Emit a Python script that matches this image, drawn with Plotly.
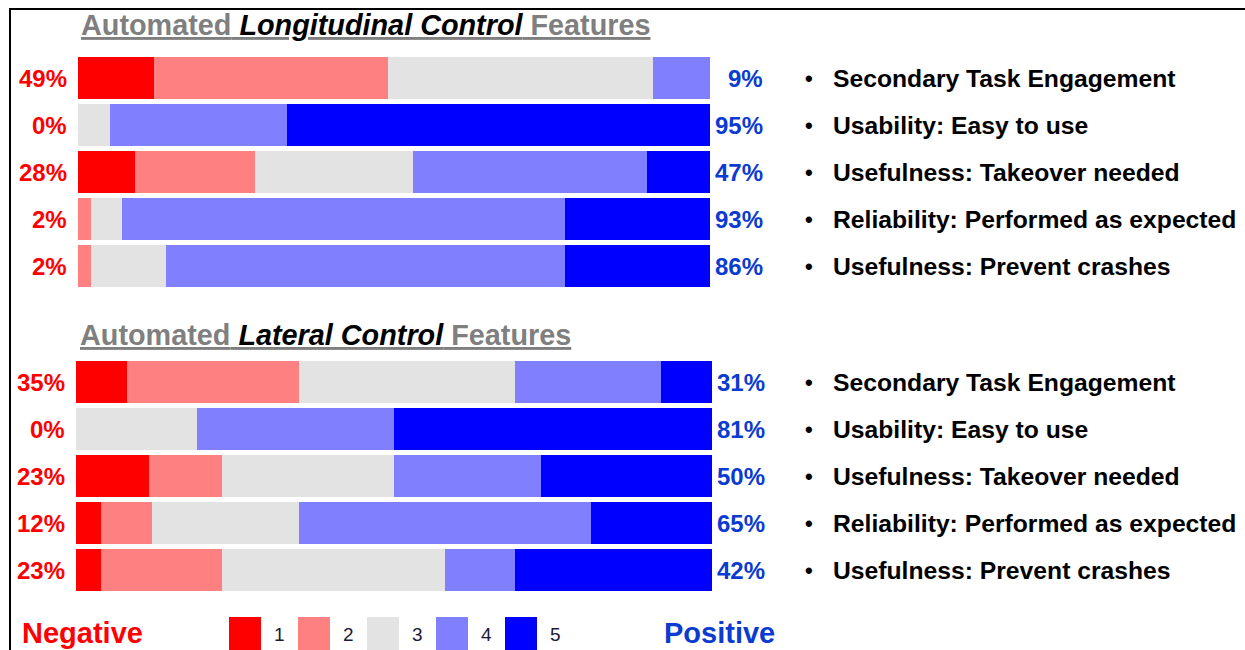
import plotly.graph_objects as go

W, H = 1245, 650

# ---------------- data ----------------
categories = [
    "Secondary Task Engagement",
    "Usability: Easy to use",
    "Usefulness: Takeover needed",
    "Reliability: Performed as expected",
    "Usefulness: Prevent crashes",
]
scale_levels = ["1", "2", "3", "4", "5"]
level_colors = ["#FF0000", "#FF8080", "#E3E3E3", "#8080FF", "#0000FF"]

# percentage of responses per Likert level (1..5), rows in category order
long_1 = [12, 0, 9, 0, 0]
long_2 = [37, 0, 19, 2, 2]
long_3 = [42, 5, 25, 5, 12]
long_4 = [9, 28, 37, 70, 63]
long_5 = [0, 67, 10, 23, 23]

lat_1 = [8, 0, 11.5, 4, 4]
lat_2 = [27, 0, 11.5, 8, 19]
lat_3 = [34, 19, 27, 23, 35]
lat_4 = [23, 31, 23, 46, 11]
lat_5 = [8, 50, 27, 19, 31]

title_long = ("Automated", "Longitudinal Control", "Features")
title_lat = ("Automated", "Lateral Control", "Features")

neg_label, pos_label = "Negative", "Positive"

# ---------------- styling helpers ----------------
FONT = "Liberation Sans, Arial, sans-serif"
RED_TXT = "#FF0000"
BLUE_TXT = "#0B3BD0"
GRAY_TXT = "#7F7F7F"


def px(x):
    return x / W


def py(y):
    return 1 - y / H


fig = go.Figure()

groups = [
    dict(vals=[long_1, long_2, long_3, long_4, long_5], xa="x", ya="y",
         xdom=[px(78), px(710)], ydom=[py(289.5), py(54.5)],
         title=title_long, title_x=79, title_y=25),
    dict(vals=[lat_1, lat_2, lat_3, lat_4, lat_5], xa="x2", ya="y2",
         xdom=[px(76), px(712.3)], ydom=[py(593.5), py(358.5)],
         title=title_lat, title_x=78, title_y=335),
]

annotations = []
for g in groups:
    for lvl, vals, col in zip(scale_levels, g["vals"], level_colors):
        fig.add_trace(go.Bar(
            x=vals, y=categories, orientation="h", name=lvl,
            marker=dict(color=col, line=dict(width=0)),
            xaxis=g["xa"], yaxis=g["ya"], showlegend=False,
            hovertemplate="%{y}: %{x}%<extra>" + lvl + "</extra>",
        ))
    v1, v2, v3, v4, v5 = g["vals"]
    for i, cat in enumerate(categories):
        neg = round(v1[i] + v2[i])
        pos = round(v4[i] + v5[i])
        annotations.append(dict(
            x=0, y=cat, xref=g["xa"], yref=g["ya"], text=f"<b>{neg}%</b>",
            xanchor="right", yanchor="middle", xshift=-9, showarrow=False,
            font=dict(family=FONT, size=24, color=RED_TXT)))
        annotations.append(dict(
            x=100, y=cat, xref=g["xa"], yref=g["ya"], text=f"<b>{pos}%</b>",
            xanchor="right", yanchor="middle", xshift=55, showarrow=False,
            font=dict(family=FONT, size=24, color=BLUE_TXT)))
        annotations.append(dict(
            x=px(803), y=cat, xref="paper", yref=g["ya"], text="<b>•</b>",
            xanchor="left", yanchor="middle", showarrow=False,
            font=dict(family=FONT, size=22, color="black")))
        annotations.append(dict(
            x=px(831), y=cat, xref="paper", yref=g["ya"], text=f"<b>{cat}</b>",
            xanchor="left", yanchor="middle", showarrow=False,
            font=dict(family=FONT, size=24.7, color="black")))
    a, b, c = g["title"]
    annotations.append(dict(
        x=px(g["title_x"]), y=py(g["title_y"]), xref="paper", yref="paper",
        text=(f"<b><u><span style='color:{GRAY_TXT}'>{a}</span>"
              f"<span style='color:black'><i> {b}</i></span>"
              f"<span style='color:{GRAY_TXT}'> {c}</span></u></b>"),
        xanchor="left", yanchor="middle", showarrow=False,
        font=dict(family=FONT, size=28.8, color=GRAY_TXT)))

# legend (Negative ... 1 2 3 4 5 ... Positive)
shapes = []
for i, (lvl, col) in enumerate(zip(scale_levels, level_colors)):
    x0 = 229 + 69 * i
    shapes.append(dict(type="rect", xref="paper", yref="paper",
                       x0=px(x0), x1=px(x0 + 32), y0=py(652), y1=py(617),
                       fillcolor=col, line=dict(width=0)))
    annotations.append(dict(
        x=px(x0 + 50), y=py(634), xref="paper", yref="paper", text=lvl,
        xanchor="center", yanchor="middle", showarrow=False,
        font=dict(family=FONT, size=19, color="#1a1a33")))
annotations.append(dict(
    x=px(20), y=py(633), xref="paper", yref="paper", text=f"<b>{neg_label}</b>",
    xanchor="left", yanchor="middle", showarrow=False,
    font=dict(family=FONT, size=29, color=RED_TXT)))
annotations.append(dict(
    x=px(662), y=py(633), xref="paper", yref="paper", text=f"<b>{pos_label}</b>",
    xanchor="left", yanchor="middle", showarrow=False,
    font=dict(family=FONT, size=29, color=BLUE_TXT)))

# frame (top and left edges)
shapes.append(dict(type="line", xref="paper", yref="paper",
                   x0=px(9), x1=px(1250), y0=py(9), y1=py(9),
                   line=dict(color="black", width=2)))
shapes.append(dict(type="line", xref="paper", yref="paper",
                   x0=px(10), x1=px(10), y0=py(8), y1=py(660),
                   line=dict(color="black", width=2)))

axis_common = dict(visible=False, showgrid=False, zeroline=False, fixedrange=True)
fig.update_layout(
    width=W, height=H, autosize=False,
    margin=dict(l=0, r=0, t=0, b=0, pad=0),
    paper_bgcolor="white", plot_bgcolor="white",
    barmode="stack", bargap=0.11,
    xaxis=dict(domain=groups[0]["xdom"], range=[0, 100], **axis_common),
    yaxis=dict(domain=groups[0]["ydom"], autorange="reversed", type="category", **axis_common),
    xaxis2=dict(domain=groups[1]["xdom"], range=[0, 100], anchor="y2", **axis_common),
    yaxis2=dict(domain=groups[1]["ydom"], autorange="reversed", type="category", anchor="x2", **axis_common),
    annotations=annotations,
    shapes=shapes,
    showlegend=False,
    font=dict(family=FONT),
)

# remove the browser's default 8px page margin so the 1245x650 figure fills the window
fig.write_html(
    "out.html",
    config={"displayModeBar": False},
    post_script="document.body.style.margin='0';document.body.style.overflow='hidden';",
)
